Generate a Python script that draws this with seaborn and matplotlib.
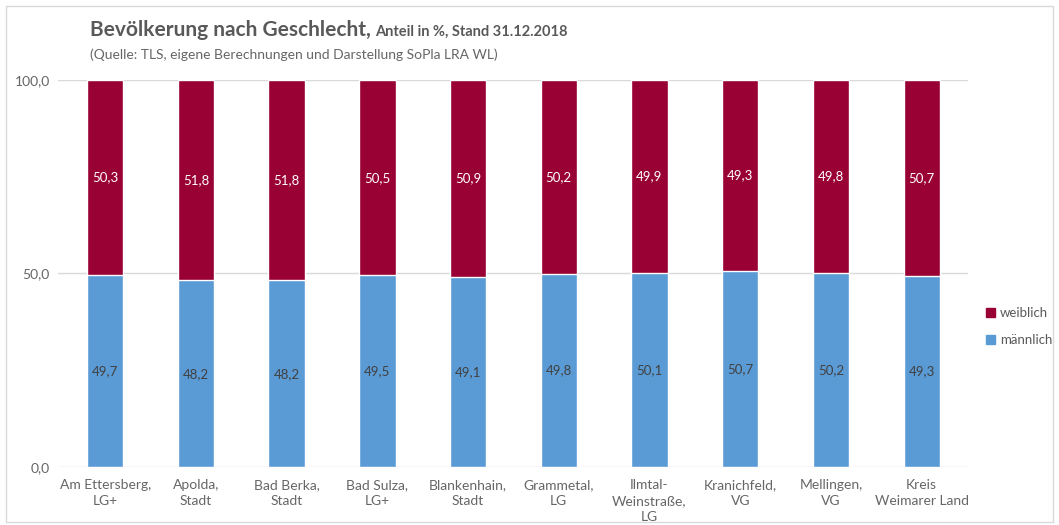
import matplotlib
matplotlib.use("Agg")
import matplotlib.pyplot as plt
import seaborn as sns
import pandas as pd
from matplotlib.patches import Rectangle, Patch

categories = ["Am Ettersberg,\nLG+", "Apolda,\nStadt", "Bad Berka,\nStadt", "Bad Sulza,\nLG+",
              "Blankenhain,\nStadt", "Grammetal,\nLG", "Ilmtal-\nWeinstraße,\nLG", "Kranichfeld,\nVG",
              "Mellingen,\nVG", "Kreis\nWeimarer Land"]
maennlich = [49.7, 48.2, 48.2, 49.5, 49.1, 49.8, 50.1, 50.7, 50.2, 49.3]
weiblich = [50.3, 51.8, 51.8, 50.5, 50.9, 50.2, 49.9, 49.3, 49.8, 50.7]
yticks = [0, 50, 100]

c_w = "#990033"
c_m = "#5B9BD5"

sns.set_theme(style="white")
plt.rcParams["font.family"] = ["Lato", "DejaVu Sans"]

df = pd.DataFrame({"cat": categories, "m": maennlich, "w": weiblich})
df["total"] = df["m"] + df["w"]

fig = plt.figure(figsize=(10.59, 5.25), dpi=100)
ax = fig.add_axes([0.0548, 0.1105, 0.8592, 0.7371])

sns.barplot(data=df, x="cat", y="total", color=c_w, width=0.4, saturation=1, ax=ax, zorder=3)
sns.barplot(data=df, x="cat", y="m", color=c_m, width=0.4, saturation=1, ax=ax, zorder=3)

for i, (m, w) in enumerate(zip(maennlich, weiblich)):
    ax.text(i, m / 2, f"{m:.1f}".replace(".", ","), ha="center", va="center",
            fontsize=9.5, color="#404040", zorder=4)
    ax.text(i, m + w / 2, f"{w:.1f}".replace(".", ","), ha="center", va="center",
            fontsize=9.5, color="white", zorder=4)

ax.set_ylim(0, 100)
ax.set_xlim(-0.52, 9.51)
ax.set_yticks(yticks)
ax.set_yticklabels([f"{v:.1f}".replace(".", ",") for v in yticks])
for v in yticks:
    ax.axhline(v, color="#d9d9d9", lw=1, zorder=1)
for s in ax.spines.values():
    s.set_visible(False)
ax.set_xlabel("")
ax.set_ylabel("")
ax.tick_params(axis="both", length=0, labelsize=10, colors="#666666", pad=6)
ax.tick_params(axis="x", pad=9)
for lab in ax.get_xticklabels():
    lab.set_linespacing(1.38)

t1 = fig.text(0.085, 0.932, "Bevölkerung nach Geschlecht,", fontsize=15, fontweight="bold",
              color="#595959", ha="left", va="baseline")
fig.canvas.draw()
bb = t1.get_window_extent()
x_end = bb.x1 / fig.bbox.width
fig.text(x_end + 0.004, 0.932, "Anteil in %, Stand 31.12.2018", fontsize=10.5, fontweight="bold",
         color="#595959", ha="left", va="baseline")
fig.text(0.085, 0.888, "(Quelle: TLS, eigene Berechnungen und Darstellung SoPla LRA WL)",
         fontsize=10, color="#666666", ha="left", va="baseline")

handles = [Patch(color=c_w, label="weiblich"), Patch(color=c_m, label="männlich")]
fig.legend(handles=handles, loc="center left", bbox_to_anchor=(0.92, 0.378), frameon=False,
           fontsize=9.5, labelcolor="#595959", handlelength=0.65, handleheight=0.65,
           handletextpad=0.4, labelspacing=1.1)

fig.patches.append(Rectangle((0.006, 0.006), 0.988, 0.982, transform=fig.transFigure,
                             fill=False, edgecolor="#d9d9d9", lw=1))

fig.savefig("out.png", dpi=100)
